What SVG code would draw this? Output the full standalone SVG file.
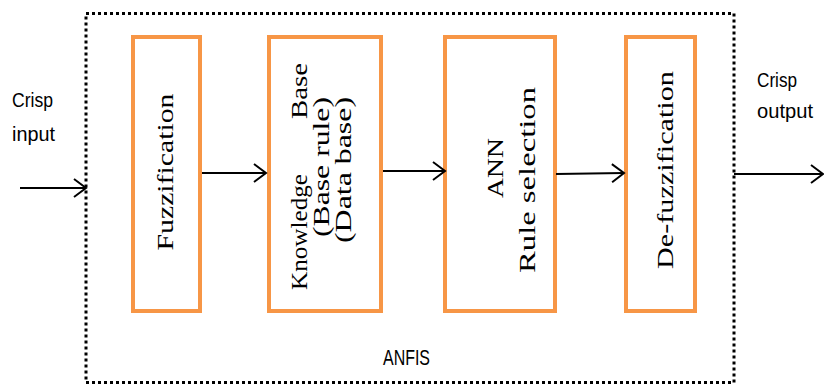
<svg xmlns="http://www.w3.org/2000/svg" width="824" height="387" viewBox="0 0 824 387">
<style>
.box{fill:none;stroke:#F79646;stroke-width:4}
.frame{fill:none;stroke:#000;stroke-width:3;stroke-dasharray:3 3}
.conn{fill:none;stroke:#000;stroke-width:2}
.vt{font-family:"Liberation Serif","Times New Roman",serif;font-size:23px;fill:#000;text-anchor:middle}
.lb{font-family:"Liberation Sans",Arial,sans-serif;font-size:20px;fill:#000}
</style>
<defs>
<marker id="arr" markerUnits="userSpaceOnUse" markerWidth="16" markerHeight="24" refX="13" refY="10" orient="auto">
<path d="M1,1 L13,10 L1,19" fill="none" stroke="#000" stroke-width="2"/>
</marker>
</defs>
<rect class="frame" x="86" y="13.5" width="648" height="369"/>
<g id="fuzzification">
<rect class="box" x="133" y="37" width="67" height="274"/>
<text class="vt" transform="translate(173,172) rotate(-90)" textLength="157" lengthAdjust="spacingAndGlyphs">Fuzzification</text>
</g>
<g id="knowledge-base">
<rect class="box" x="269" y="37" width="112" height="274"/>
<text class="vt" transform="translate(307,232) rotate(-90)" textLength="116" lengthAdjust="spacingAndGlyphs">Knowledge</text>
<text class="vt" transform="translate(307,91) rotate(-90)" textLength="56" lengthAdjust="spacingAndGlyphs">Base</text>
<text class="vt" transform="translate(329,167) rotate(-90)" textLength="140" lengthAdjust="spacingAndGlyphs">(Base rule)</text>
<text class="vt" transform="translate(351,170) rotate(-90)" textLength="146" lengthAdjust="spacingAndGlyphs">(Data base)</text>
</g>
<g id="ann">
<rect class="box" x="445" y="37" width="110" height="274"/>
<text class="vt" transform="translate(503,168) rotate(-90)" textLength="60" lengthAdjust="spacingAndGlyphs">ANN</text>
<text class="vt" transform="translate(535,180) rotate(-90)" textLength="186" lengthAdjust="spacingAndGlyphs">Rule selection</text>
</g>
<g id="defuzzification">
<rect class="box" x="626" y="37" width="69" height="274"/>
<text class="vt" transform="translate(673,170) rotate(-90)" textLength="198" lengthAdjust="spacingAndGlyphs">De-fuzzification</text>
</g>
<g id="labels">
<text class="lb" x="12" y="107" textLength="41" lengthAdjust="spacingAndGlyphs">Crisp</text>
<text class="lb" x="12" y="141" textLength="43" lengthAdjust="spacingAndGlyphs">input</text>
<text class="lb" x="757" y="87" textLength="40" lengthAdjust="spacingAndGlyphs">Crisp</text>
<text class="lb" x="757" y="118" textLength="56" lengthAdjust="spacingAndGlyphs">output</text>
<text class="lb" x="383" y="365" style="font-size:22px" textLength="47" lengthAdjust="spacingAndGlyphs">ANFIS</text>
</g>
<g id="connectors">
<line class="conn" x1="20" y1="188" x2="86" y2="188" marker-end="url(#arr)"/>
<line class="conn" x1="202" y1="173" x2="266" y2="173" marker-end="url(#arr)"/>
<line class="conn" x1="383" y1="171" x2="445" y2="171" marker-end="url(#arr)"/>
<line class="conn" x1="556" y1="174" x2="624" y2="173" marker-end="url(#arr)"/>
<line class="conn" x1="734" y1="174" x2="823" y2="174" marker-end="url(#arr)"/>
</g>
</svg>
